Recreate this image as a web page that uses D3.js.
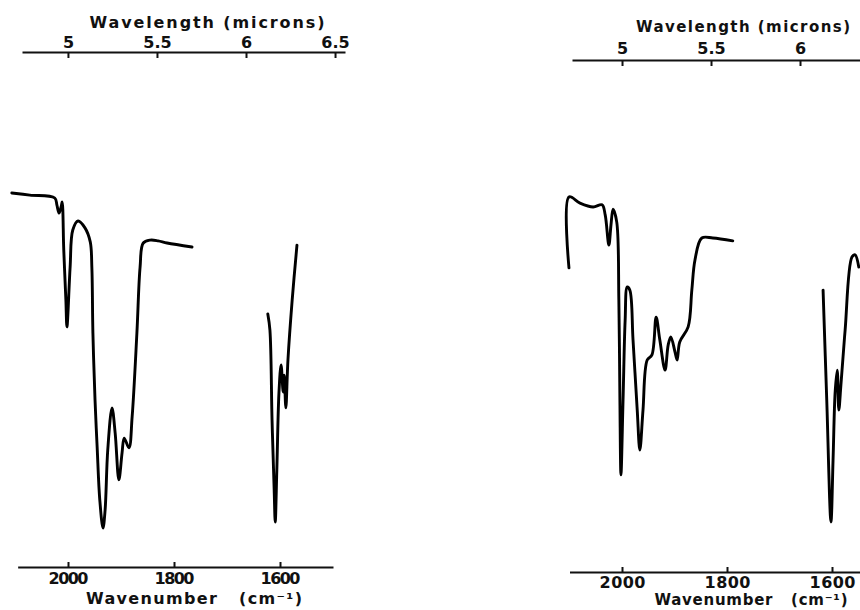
<!DOCTYPE html>
<html><head><meta charset="utf-8">
<script src="https://cdn.jsdelivr.net/npm/d3@7"></script>
<style>
html,body{margin:0;padding:0;background:#fff;}
svg{display:block;}
text{font-family:"DejaVu Sans",sans-serif;font-weight:bold;fill:#111;}
</style></head>
<body><svg id="c" width="860" height="610"></svg>
<script>
// ---- data ----
const wavenumberTicks = [2000, 1800, 1600];
const wavelengthTicksLeft = [5, 5.5, 6, 6.5];
const wavelengthTicksRight = [5, 5.5, 6];
const wavelengthTickLabels = {5: "5", 5.5: "5.5", 6: "6", 6.5: "6.5"};

// left spectrum, band 1 (wavenumber cm-1, % transmittance)
const leftAWn = [2106,2072,2025,2021,2017,2013,2011,2008,2004,2002,1996,1991,1981,1968,1958,1955,1953,1949,1945,1940,1934,1930,1925,1917,1911,1904,1898,1894,1885,1879,1870,1864,1858,1845,1830,1813,1766];
const leftAT  = [96.4,95.8,95.0,93.1,90.8,92.5,93.9,80.6,66.7,59.2,75.8,86.1,88.6,86.7,82.8,75.8,57.5,38.9,25.8,11.1,3.3,8.3,25.0,36.7,29.7,16.7,24.2,28.3,25.6,34.2,57.5,75.8,82.5,83.3,83.1,82.5,81.4];
// left spectrum, band 2
const leftBWn = [1623,1619,1615,1611,1609,1606,1602,1598,1594,1592,1589,1585,1577,1568];
const leftBT  = [62.8,58.3,33.3,13.9,5.0,19.4,40.8,48.6,41.1,45.8,36.7,50,66.7,81.9];
// right spectrum, band 1
const rightAWn = [2101,2101,2080,2055,2038,2032,2025,2021,2017,2010,2006,2004,2002,1998,1994,1990,1985,1979,1971,1966,1960,1952,1943,1935,1928,1918,1912,1907,1899,1895,1890,1874,1867,1861,1848,1827,1789];
const rightAT  = [75.6,95.3,93.6,92.5,93.1,90.3,81.9,87.5,91.9,88.3,66.7,38.9,18.1,38.9,61.1,70.3,69.4,55.6,36.1,25.0,36.1,50.0,51.4,61.9,55.6,47.2,54.2,56.4,52.2,50.0,55,59.2,69.4,77.8,83.9,83.9,83.1];
// right spectrum, band 2
const rightBWn = [1617,1610,1602,1598,1594,1590,1587,1583,1575,1562,1556,1549];
const rightBT  = [69.4,38.9,5.0,22.2,41.1,47.2,36.1,43.1,58.3,78.6,79.2,75.8];

const zip = (a, b) => a.map((v, i) => [v, b[i]]);

const svg = d3.select("#c");
const y = d3.scaleLinear().domain([0, 100]).range([540, 180]);

function styleText(sel, size, len) {
  sel.style("font-size", size + "px").style("font-family", '"DejaVu Sans",sans-serif')
    .attr("font-weight", "bold").attr("fill", "#111");
  if (len) sel.attr("textLength", len).attr("lengthAdjust", "spacing");
}

function panel(cfg) {
  const g = svg.append("g");
  const x = d3.scaleLinear().domain(cfg.wnDomain).range(cfg.wnRange);
  const w = d3.scaleLinear().domain(cfg.wlDomain).range(cfg.wlRange);

  // bottom axis
  const ab = g.append("g").attr("transform", `translate(0,${cfg.bottomY})`)
    .call(d3.axisBottom(x).tickValues(wavenumberTicks).tickFormat(d3.format("d"))
      .tickSizeInner(-5).tickSizeOuter(0).tickPadding(cfg.bottomPad));
  ab.select(".domain").attr("stroke", "#111").attr("stroke-width", 2);
  ab.selectAll(".tick line").attr("stroke", "#111").attr("stroke-width", 2);
  styleText(ab.selectAll(".tick text"), 16, cfg.wnLabelLen);

  // top axis
  const at = g.append("g").attr("transform", `translate(0,${cfg.topY})`)
    .call(d3.axisTop(w).tickValues(cfg.wlTicks).tickFormat(d => wavelengthTickLabels[d])
      .tickSizeInner(-6).tickSizeOuter(0).tickPadding(cfg.topPad));
  at.select(".domain").attr("stroke", "#111").attr("stroke-width", 2);
  at.selectAll(".tick line").attr("stroke", "#111").attr("stroke-width", 2);
  styleText(at.selectAll(".tick text"), 16);

  const t1 = g.append("text").attr("x", cfg.topTitleX).attr("y", cfg.topTitleY).attr("text-anchor", "middle")
    .text("Wavelength (microns)");
  styleText(t1, cfg.titleFont, cfg.topTitleLen);
  const t2 = g.append("text").attr("x", cfg.botTitleX).attr("y", cfg.botTitleY).attr("text-anchor", "middle")
    .style("white-space", "pre").text("Wavenumber   (cm\u207B\u00B9)");
  styleText(t2, cfg.titleFont, cfg.botTitleLen);

  const line = d3.line().x(d => x(d[0])).y(d => y(d[1])).curve(d3.curveCatmullRom.alpha(0.5));
  cfg.series.forEach(s => {
    g.append("path").datum(s).attr("d", line).attr("fill", "none")
      .attr("stroke", "#000").attr("stroke-width", 2.9).attr("stroke-linejoin", "round").attr("stroke-linecap", "round");
  });
}

panel({
  wnDomain: [2095, 1500], wnRange: [68 - 95 * 0.53, 68 + 500 * 0.53],
  wlDomain: [4.742, 6.556], wlRange: [22, 345], wlTicks: wavelengthTicksLeft,
  bottomY: 567, topY: 52, bottomPad: 6, topPad: 4, titleFont: 16, wnLabelLen: 40,
  topTitleX: 207, topTitleY: 28, topTitleLen: 235,
  botTitleX: 194, botTitleY: 604, botTitleLen: 216,
  series: [zip(leftAWn, leftAT), zip(leftBWn, leftBT)]
});
panel({
  wnDomain: [2100, 1500], wnRange: [622 - 100 * 0.525, 622 + 500 * 0.525],
  wlDomain: [4.719, 6.6], wlRange: [572, 622 + 1.6 * 178],
  wlTicks: wavelengthTicksRight,
  bottomY: 572, topY: 60, bottomPad: 5, topPad: 6, titleFont: 15, wnLabelLen: 46,
  topTitleX: 743, topTitleY: 32, topTitleLen: 214,
  botTitleX: 751, botTitleY: 605, botTitleLen: 193,
  series: [zip(rightAWn, rightAT), zip(rightBWn, rightBT)]
});
</script></body></html>
